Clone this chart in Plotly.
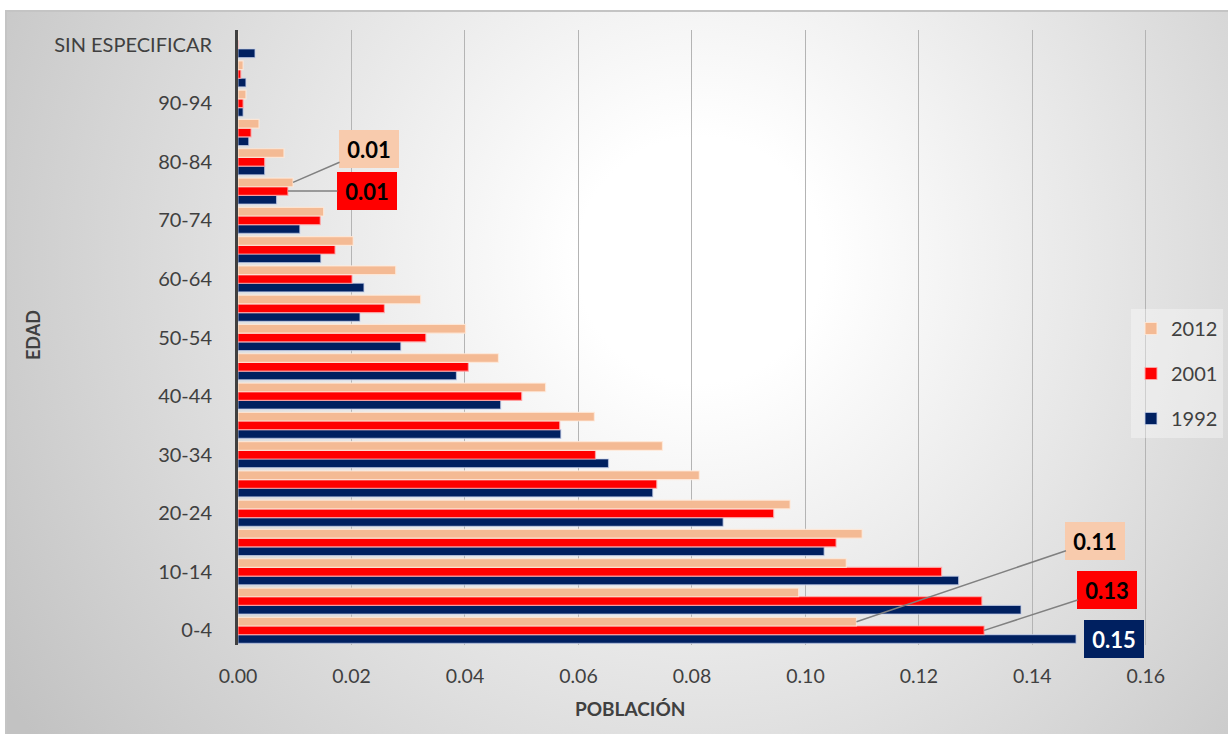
import base64
import plotly.graph_objects as go

# Age groups (bottom to top) and population share per census year
categories = ["0-4", "5-9", "10-14", "15-19", "20-24", "25-29", "30-34", "35-39",
              "40-44", "45-49", "50-54", "55-59", "60-64", "65-69", "70-74",
              "75-79", "80-84", "85-89", "90-94", "95 Y MÁS", "SIN ESPECIFICAR"]

pob_1992 = [0.1477, 0.1380, 0.1270, 0.1033, 0.0855, 0.0731, 0.0653, 0.0569,
            0.0463, 0.0385, 0.0287, 0.0215, 0.0222, 0.0146, 0.0109,
            0.0068, 0.0047, 0.0019, 0.0009, 0.0014, 0.0030]
pob_2001 = [0.1315, 0.1311, 0.1240, 0.1054, 0.0944, 0.0738, 0.0630, 0.0567,
            0.0500, 0.0406, 0.0331, 0.0258, 0.0201, 0.0171, 0.0145,
            0.0088, 0.0047, 0.0023, 0.0009, 0.0005, 0.0]
pob_2012 = [0.1090, 0.0988, 0.1072, 0.1100, 0.0973, 0.0813, 0.0748, 0.0628,
            0.0542, 0.0459, 0.0401, 0.0322, 0.0278, 0.0203, 0.0151,
            0.0097, 0.0081, 0.0037, 0.0014, 0.0009, 0.0]

x_ticks = [0.00, 0.02, 0.04, 0.06, 0.08, 0.10, 0.12, 0.14, 0.16]

series = [
    ("1992", pob_1992, "#002060", "rgba(200,210,235,0.7)"),
    ("2001", pob_2001, "#FF0000", "rgba(255,170,170,0.8)"),
    ("2012", pob_2012, "#F4BA94", "rgba(255,235,220,0.8)"),
]

FONT = "Lato, 'Open Sans', sans-serif"
TXT = "#404040"
BARGAP = 0.11

W, H = 1228, 734
ML, MR, MT, MB = 238, 81, 30, 89
PW, PH = W - ML - MR, H - MT - MB

fig = go.Figure()
for i, (name, vals, col, edge) in enumerate(series):
    fig.add_trace(go.Bar(
        y=categories, x=vals, name=name, orientation="h",
        marker=dict(color=col, line=dict(color=edge, width=1.2)),
        legendgroup=name, legendrank=len(series) - i,
    ))

# Vertical position of a series' bar inside its category group
def bar_y(cat_idx, series_idx):
    return cat_idx + (series_idx - 1) * (1 - BARGAP) / 3

label_styles = {0: ("#002060", "white"), 1: ("#FF0000", "black"), 2: ("#F8CBAD", "black")}

# (category index, series index, arrow offset x, arrow offset y)
callouts = [
    (0, 2, 239, -81),
    (0, 1, 123, -40),
    (15, 2, 76, -33),
    (15, 1, 79, 0),
]
annotations = []
for ci, si, ax, ay in callouts:
    v = series[si][1][ci]
    bg, fc = label_styles[si]
    annotations.append(dict(
        x=v, y=bar_y(ci, si), xref="x", yref="y",
        text=f"<b>{v:.2f}</b>", showarrow=True, arrowhead=0,
        arrowwidth=1.5, arrowcolor="#808080", ax=ax, ay=ay,
        axref="pixel", ayref="pixel",
        bgcolor=bg, bordercolor=bg, borderpad=3, width=52, height=30,
        font=dict(family=FONT, size=22, color=fc),
    ))

# Label placed right next to the longest 1992 bar
v92 = pob_1992[0]
annotations.append(dict(
    x=v92, y=bar_y(0, 0), xref="x", yref="y",
    text=f"<b>{v92:.2f}</b>", showarrow=False,
    xanchor="left", xshift=8,
    bgcolor="#002060", bordercolor="#002060", borderpad=3, width=52, height=30,
    font=dict(family=FONT, size=22, color="white"),
))

# Axis titles
annotations.append(dict(
    x=(630 - ML) / PW, y=-(708 - (MT + PH)) / PH, xref="paper", yref="paper",
    text="<b>POBLACIÓN</b>", showarrow=False, xanchor="center", yanchor="middle",
    font=dict(family=FONT, size=19, color=TXT),
))
annotations.append(dict(
    x=(33 - ML) / PW, y=((MT + PH) - 335) / PH, xref="paper", yref="paper",
    text="<b>EDAD</b>", showarrow=False, textangle=-90,
    xanchor="center", yanchor="middle",
    font=dict(family=FONT, size=18, color=TXT),
))

# Soft radial background inside a framed panel
svg = f'''<svg xmlns="http://www.w3.org/2000/svg" width="{W}" height="{H}" viewBox="0 0 {W} {H}">
<defs><radialGradient id="g" gradientUnits="userSpaceOnUse" cx="700" cy="260" r="820">
<stop offset="0" stop-color="#ffffff"/><stop offset="0.15" stop-color="#ffffff"/>
<stop offset="1" stop-color="#c2c2c2"/></radialGradient></defs>
<rect width="{W}" height="{H}" fill="#ffffff"/>
<rect x="6" y="11" width="{W + 10}" height="{H + 10}" fill="url(#g)" stroke="#c4c4c4" stroke-width="2"/>
</svg>'''
bg_uri = "data:image/svg+xml;base64," + base64.b64encode(svg.encode()).decode()

fig.update_layout(
    width=W, height=H,
    margin=dict(l=ML, r=MR, t=MT, b=MB, autoexpand=False),
    paper_bgcolor="white", plot_bgcolor="rgba(0,0,0,0)",
    barmode="group", bargap=BARGAP, bargroupgap=0,
    font=dict(family=FONT, size=18, color=TXT),
    images=[dict(
        source=bg_uri, xref="paper", yref="paper",
        x=-ML / PW, y=1 + MT / PH, sizex=W / PW, sizey=H / PH,
        xanchor="left", yanchor="top", sizing="stretch", layer="below",
    )],
    legend=dict(
        x=(1131 - ML) / PW, y=((MT + PH) - 309) / PH, xanchor="left", yanchor="top",
        traceorder="grouped", tracegroupgap=16,
        bgcolor="rgba(255,255,255,0.35)", borderwidth=0,
        font=dict(family=FONT, size=20, color=TXT),
        itemwidth=30,
    ),
    annotations=annotations,
    showlegend=True,
)

fig.update_xaxes(
    range=[0, 0.1602], tickvals=x_ticks, tickformat=".2f",
    showgrid=True, gridcolor="#b4b4b4", gridwidth=1,
    zeroline=False, showline=False, ticks="",
    ticklabelstandoff=17,
    tickfont=dict(family=FONT, size=19.5, color=TXT),
)
fig.update_yaxes(
    type="category", categoryorder="array", categoryarray=categories,
    range=[-0.5, len(categories) - 0.5],
    tickvals=categories[::2], ticktext=categories[::2],
    showgrid=False, zeroline=False,
    showline=True, linecolor="#404040", linewidth=3,
    ticks="", ticklabelstandoff=19,
    tickfont=dict(family=FONT, size=20, color=TXT),
)

fig.write_html("out.html")
